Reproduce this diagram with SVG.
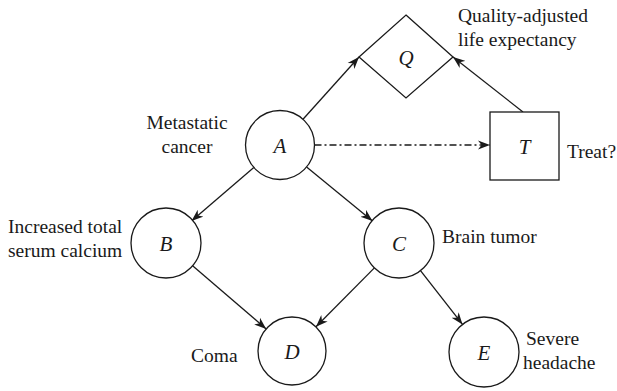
<svg xmlns="http://www.w3.org/2000/svg" width="617" height="391" viewBox="0 0 617 391">
  <defs>
    <marker id="arrow" viewBox="0 0 12 10" markerWidth="12" markerHeight="10" refX="12" refY="5" orient="auto" markerUnits="userSpaceOnUse">
      <path d="M0,0.5 L12,5 L0,9.5 L3.5,5 Z" fill="#1a1a1a"/>
    </marker>
  </defs>
  <style>
    .node { fill: #ffffff; stroke: #1a1a1a; stroke-width: 1.3; }
    .edge { fill: none; stroke: #1a1a1a; stroke-width: 1.3; marker-end: url(#arrow); }
    .dashdot { stroke-dasharray: 7 3 2 3; }
    text { font-family: 'Liberation Serif', 'Times New Roman', Times, 'DejaVu Serif', serif; fill: #1a1a1a; }
    .sym { font-style: italic; font-size: 21px; text-anchor: middle; }
    .lbl { font-size: 19.5px; }
  </style>
  <rect width="617" height="391" fill="#ffffff"/>

  <!-- connectors -->
  <g id="edges">
    <line class="edge" x1="303" y1="119.3" x2="359" y2="57"/>
    <line class="edge" x1="523" y1="112" x2="453" y2="57"/>
    <line class="edge dashdot" x1="314.5" y1="145" x2="490" y2="145"/>
    <line class="edge" x1="253.8" y1="167.5" x2="191.5" y2="221"/>
    <line class="edge" x1="306.6" y1="166.9" x2="372.5" y2="221"/>
    <line class="edge" x1="192.6" y1="265.8" x2="266.2" y2="328.9"/>
    <line class="edge" x1="374.4" y1="267.9" x2="316" y2="326.8"/>
    <line class="edge" x1="420.5" y1="270.6" x2="462.5" y2="324.4"/>
  </g>

  <!-- utility node -->
  <g id="Q">
    <polygon class="node" points="406,15 453,57 406,98 359,57"/>
    <text class="sym" x="406" y="65">Q</text>
    <text class="lbl" x="458" y="22">Quality-adjusted</text>
    <text class="lbl" x="458" y="46">life expectancy</text>
  </g>

  <!-- decision node -->
  <g id="T">
    <rect class="node" x="490" y="112" width="69" height="68"/>
    <text class="sym" x="524.5" y="154">T</text>
    <text class="lbl" x="567" y="158">Treat?</text>
  </g>

  <!-- chance nodes -->
  <g id="A">
    <circle class="node" cx="280" cy="145" r="34.5"/>
    <text class="sym" x="280" y="153">A</text>
    <text class="lbl" x="187" y="129" text-anchor="middle">Metastatic</text>
    <text class="lbl" x="187" y="153" text-anchor="middle">cancer</text>
  </g>

  <g id="B">
    <circle class="node" cx="166" cy="243" r="35"/>
    <text class="sym" x="166" y="251">B</text>
    <text class="lbl" x="8" y="233">Increased total</text>
    <text class="lbl" x="8" y="257">serum calcium</text>
  </g>

  <g id="C">
    <circle class="node" cx="399" cy="243" r="35"/>
    <text class="sym" x="399" y="251">C</text>
    <text class="lbl" x="442" y="243">Brain tumor</text>
  </g>

  <g id="D">
    <circle class="node" cx="292" cy="351" r="34"/>
    <text class="sym" x="292" y="359">D</text>
    <text class="lbl" x="191" y="362">Coma</text>
  </g>

  <g id="E">
    <circle class="node" cx="484" cy="352" r="35"/>
    <text class="sym" x="484" y="360">E</text>
    <text class="lbl" x="526" y="345">Severe</text>
    <text class="lbl" x="523" y="369">headache</text>
  </g>
</svg>
